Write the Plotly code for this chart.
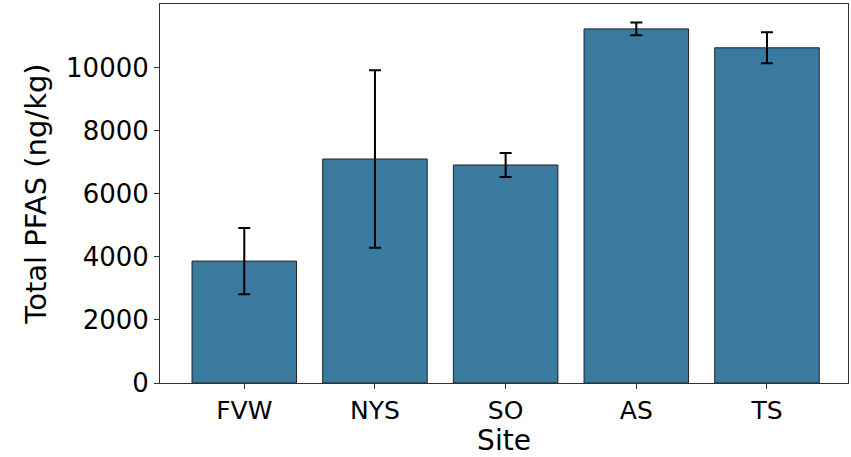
import plotly.graph_objects as go

sites = ["FVW", "NYS", "SO", "AS", "TS"]
total_pfas = [3870, 7110, 6920, 11240, 10640]
err = [1050, 2820, 380, 200, 490]
y_ticks = [0, 2000, 4000, 6000, 8000, 10000]

fig = go.Figure()
fig.add_trace(go.Bar(
    x=sites, y=total_pfas, width=0.8,
    marker=dict(color="#3a7a9e", line=dict(color="#222222", width=1)),
    error_y=dict(type="data", array=err, visible=True, color="black", thickness=2, width=6),
))

font = "DejaVu Sans"
fig.update_layout(
    width=851, height=457,
    margin=dict(l=160, r=3, t=4, b=74),
    plot_bgcolor="white", paper_bgcolor="white",
    showlegend=False,
    font=dict(family=font, color="black"),
)
fig.update_xaxes(
    range=[-0.645, 4.62],
    showline=True, mirror=True, linecolor="#333333", linewidth=1,
    ticks="outside", ticklen=5, tickcolor="#333333",
    tickfont=dict(size=25, family=font),
    title=dict(text="Site", font=dict(size=28, family=font), standoff=9),
    showgrid=False,
)
fig.update_yaxes(
    range=[0, 12030],
    tickvals=y_ticks, tickformat="d",
    showline=True, mirror=True, linecolor="#333333", linewidth=1,
    ticks="outside", ticklen=5, tickcolor="#333333",
    tickfont=dict(size=26, family=font),
    title=dict(text="Total PFAS (ng/kg)", font=dict(size=29, family=font), standoff=10),
    showgrid=False, zeroline=False,
)
fig.write_html("out.html")
